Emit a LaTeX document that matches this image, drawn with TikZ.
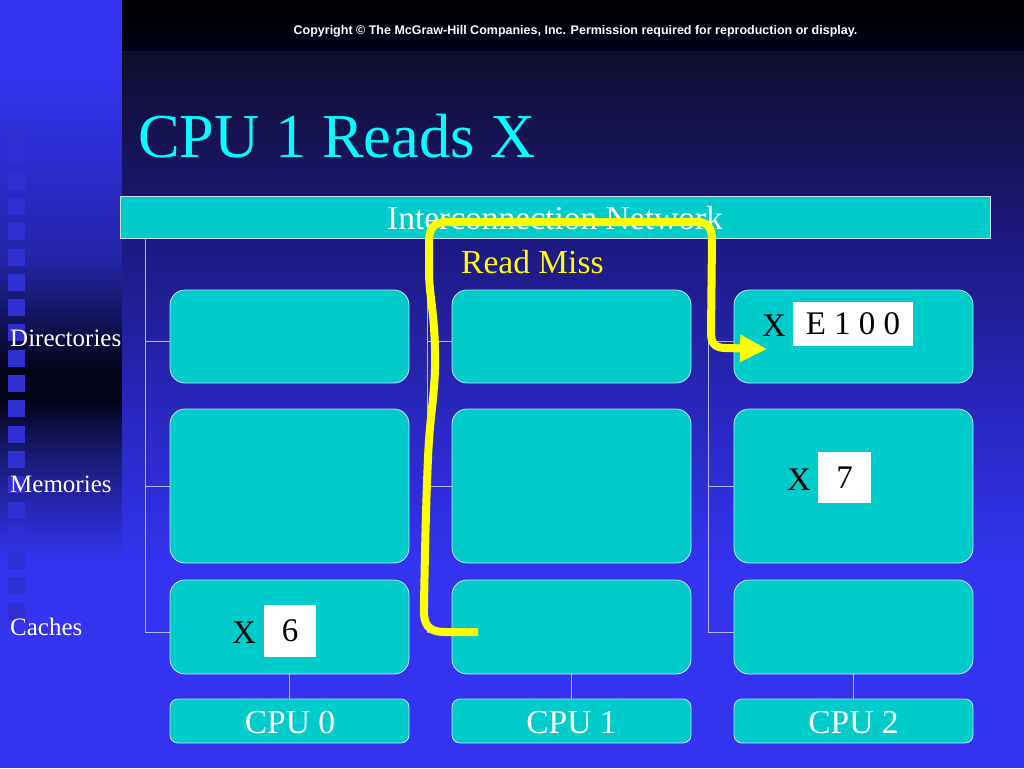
\documentclass[tikz,border=0pt]{standalone}
\usepackage{fontspec}
\setmainfont{Liberation Serif}
\newfontfamily\arialfont{Liberation Sans}
\usetikzlibrary{arrows.meta}
\definecolor{boxcyan}{RGB}{0,204,204}
\definecolor{edgecol}{RGB}{200,225,255}
\definecolor{buscol}{RGB}{180,180,235}
\definecolor{bright}{RGB}{51,51,240}
\definecolor{darkest}{RGB}{4,4,24}
\definecolor{stripmid}{RGB}{36,36,165}
\definecolor{stripmid2}{RGB}{26,26,115}
\definecolor{navytop}{RGB}{16,14,44}
\definecolor{navymid}{RGB}{28,24,125}
\definecolor{navylow}{RGB}{40,38,185}
\definecolor{bandbot}{RGB}{0,0,28}
\definecolor{sqcol}{RGB}{47,47,210}
\definecolor{titlecyan}{RGB}{0,255,255}
\definecolor{pathyellow}{RGB}{255,255,0}
\tikzset{
  box/.style={draw=edgecol, line width=0.8pt, fill=boxcyan, rounded corners=15pt, inner sep=0pt},
  cpubox/.style={box, rounded corners=8pt},
  valbox/.style={fill=white, inner sep=0pt, text=black, font=\fontsize{33}{33}\selectfont},
  sidelbl/.style={text=white, font=\fontsize{25}{25}\selectfont, anchor=base west, inner sep=0pt},
  xlbl/.style={text=black, font=\fontsize{33}{33}\selectfont, anchor=base west, inner sep=0pt},
  biglbl/.style={font=\fontsize{33.5}{33.5}\selectfont, anchor=base, inner sep=0pt},
  bus/.style={draw=buscol, line width=0.8pt},
  sq/.style={fill=sqcol, draw=none},
  readpath/.style={draw=pathyellow, line width=8pt, line join=round, -{Triangle[length=27pt,width=26pt]}}
}
\begin{document}
\begin{tikzpicture}[x=1pt,y=-1pt]
\useasboundingbox (0,0) rectangle (1024,768);
% left strip background
\fill[bright] (0,0) rectangle (122,80);
\shade[top color=bright, bottom color=stripmid] (0,80) rectangle (122,260);
\shade[top color=stripmid, bottom color=darkest] (0,260) rectangle (122,370);
\fill[darkest] (0,370) rectangle (122,400);
\shade[top color=darkest, bottom color=stripmid2] (0,400) rectangle (122,455);
\shade[top color=stripmid2, bottom color=bright] (0,455) rectangle (122,560);
\fill[bright] (0,560) rectangle (122,768);
% main background
\shade[top color=black, bottom color=bandbot] (122,0) rectangle (1024,52);
\shade[top color=navytop, bottom color=navymid] (122,52) rectangle (1024,230);
\shade[top color=navymid, bottom color=navylow] (122,230) rectangle (1024,400);
\shade[top color=navylow, bottom color=bright] (122,400) rectangle (1024,560);
\fill[bright] (122,560) rectangle (1024,768);
% squares
\foreach \k in {0,...,19} {
  \fill[sq] (8,{122+25.3*\k}) rectangle (25,{139+25.3*\k});
}
% header text
\node[text=white, font=\arialfont\bfseries\fontsize{12.5}{12.5}\selectfont, anchor=base, inner sep=0pt] (copy) at (575.5,35) {Copyright \textcopyright{} The McGraw-Hill Companies, Inc. Permission required for reproduction or display.};
\node[text=titlecyan, font=\fontsize{62.5}{62.5}\selectfont, anchor=base west, inner sep=0pt] (title) at (138,157) {CPU 1 Reads X};
% interconnection network
\node[draw=edgecol, line width=0.8pt, fill=boxcyan, minimum width=870pt, minimum height=42pt, inner sep=0pt] (net) at (555,217) {};
\node[biglbl, text=white] (nettxt) at (555,229) {Interconnection Network};
% buses
\coordinate (b0) at (145,238);
\coordinate (b1) at (427,238);
\coordinate (b2) at (708,238);
% boxes
\foreach \i/\cx in {0/289.5,1/571.5,2/853.5} {
  \node[box, minimum width=239pt, minimum height=93pt] (d\i) at (\cx,336.5) {};
  \node[box, minimum width=239pt, minimum height=154pt] (m\i) at (\cx,486) {};
  \node[box, minimum width=239pt, minimum height=94pt] (c\i) at (\cx,627) {};
  \node[cpubox, minimum width=239pt, minimum height=44pt] (p\i) at (\cx,721) {};
  \draw[bus] (c\i.south) -- (p\i.north);
}
% bus lines
\draw[bus] (b0) -- ([yshift=-5pt]c0.west -| b0) -- ([yshift=-5pt]c0.west);
\draw[bus] ([yshift=-5pt]d0.west -| b0) -- ([yshift=-5pt]d0.west);
\draw[bus] (m0.west -| b0) -- (m0.west);
\draw[bus] (b1) -- ([yshift=-5pt]c1.west -| b1) -- ([yshift=-5pt]c1.west);
\draw[bus] ([yshift=-5pt]d1.west -| b1) -- ([yshift=-5pt]d1.west);
\draw[bus] (m1.west -| b1) -- (m1.west);
\draw[bus] (b2) -- ([yshift=-5pt]c2.west -| b2) -- ([yshift=-5pt]c2.west);
\draw[bus] ([yshift=-5pt]d2.west -| b2) -- ([yshift=-5pt]d2.west);
\draw[bus] (m2.west -| b2) -- (m2.west);
% cpu labels
\node[biglbl, text=white] (p0t) at (290,733) {CPU 0};
\node[biglbl, text=white] (p1t) at (571.5,733) {CPU 1};
\node[biglbl, text=white] (p2t) at (853.5,733) {CPU 2};
% side labels
\node[sidelbl] (ldir) at (10,346) {Directories};
\node[sidelbl] (lmem) at (10,492) {Memories};
\node[sidelbl] (lcache) at (10,635) {Caches};
% values
\node[xlbl] (xd) at (762,336) {X};
\node[valbox, minimum width=120pt, minimum height=44pt] (vd) at (853,324) {E 1 0 0};
\node[xlbl] (xm) at (787,490) {X};
\node[valbox, minimum width=53pt, minimum height=51pt] (vm) at (844.5,477.5) {7};
\node[xlbl] (xc) at (232,643) {X};
\node[valbox, minimum width=52pt, minimum height=52pt] (vc) at (290,631) {6};
% read miss
\node[biglbl, text=pathyellow, anchor=base west] (rm) at (461,273) {Read Miss};
\coordinate (rmstart) at (478,632);
\coordinate (rmend) at (767,349);
\draw[readpath] (rmstart) -- (445,632)
  .. controls (428,632) and (423,625) .. (424,606)
  .. controls (425,540) and (427,470) .. (429,440)
  .. controls (431,410) and (436,385) .. (435,350)
  .. controls (434,310) and (430,300) .. (429,275)
  -- (429,242)
  .. controls (429,228) and (434,222) .. (447,222)
  -- (697,222)
  .. controls (708,222) and (712,228) .. (712,240)
  -- (711,332)
  .. controls (711,343) and (714,348) .. (726,348)
  -- (rmend);
\end{tikzpicture}
\end{document}
